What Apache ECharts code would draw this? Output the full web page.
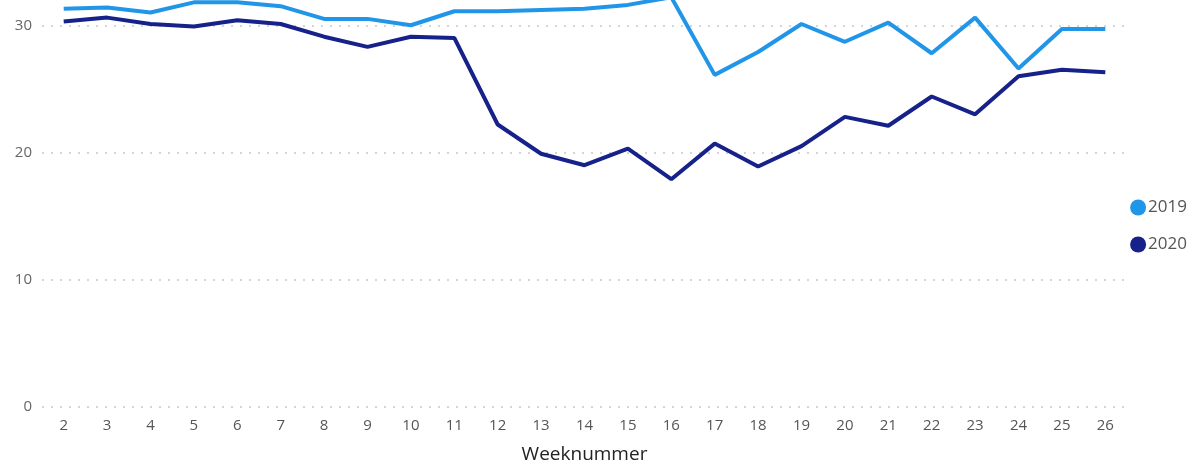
<!DOCTYPE html>
<html lang="nl">
<head>
    <meta charset="utf-8">
    <title>Weeknummer</title>
    <style>
        html, body { margin: 0; padding: 0; background: #fff; }
    </style>
</head>
<body>
    <div id="main" style="width:1192px;height:461px;"></div>
    <script src="https://cdn.jsdelivr.net/npm/echarts@6/dist/echarts.min.js"></script>
    <script type="text/javascript">
        // data
        var weeks = ['2','3','4','5','6','7','8','9','10','11','12','13','14','15','16','17','18','19','20','21','22','23','24','25','26'];
        var data2019 = [31.3, 31.4, 31.0, 31.8, 31.8, 31.5, 30.5, 30.5, 30.0, 31.1, 31.1, 31.2, 31.3, 31.6, 32.2, 26.1, 27.9, 30.1, 28.7, 30.2, 27.8, 30.6, 26.6, 29.7, 29.7];
        var data2020 = [30.3, 30.6, 30.1, 29.9, 30.4, 30.1, 29.1, 28.3, 29.1, 29.0, 22.2, 19.9, 19.0, 20.3, 17.9, 20.7, 18.9, 20.5, 22.8, 22.1, 24.4, 23.0, 26.0, 26.5, 26.3];
        var yTicks = [0, 10, 20, 30, 40];

        var font = '"Open Sans", "Noto Sans", sans-serif';
        var myChart = echarts.init(document.getElementById('main'));

        var option = {
            animation: false,
            grid: {
                left: 42,
                right: 65,
                top: -102,
                bottom: 54,
                containLabel: false,
                outerBoundsMode: 'none'
            },
            legend: {
                orient: 'vertical',
                right: 0,
                top: 194,
                itemGap: 20,
                itemWidth: 16,
                itemHeight: 16,
                icon: 'circle',
                textStyle: { color: '#555', fontSize: 17, fontFamily: font, padding: [0, 0, 0, -3] },
                data: ['2019', '2020']
            },
            xAxis: {
                type: 'category',
                data: weeks,
                name: 'Weeknummer',
                nameLocation: 'middle',
                nameGap: 38,
                nameTextStyle: { color: '#222', fontSize: 19, fontFamily: font },
                axisLine: { show: false },
                axisTick: { show: false },
                axisLabel: { color: '#555', fontSize: 15, fontFamily: font, margin: 11 }
            },
            yAxis: {
                type: 'value',
                min: yTicks[0],
                max: yTicks[yTicks.length - 1],
                interval: 10,
                axisLine: { show: false },
                axisTick: { show: false },
                axisLabel: { color: '#666', fontSize: 15, fontFamily: font, margin: 10 },
                splitLine: {
                    show: true,
                    lineStyle: { color: '#c8c8c8', type: [2, 7], width: 1.5 }
                }
            },
            series: [{
                name: '2019',
                type: 'line',
                data: data2019,
                symbol: 'none',
                color: '#2196e8',
                lineStyle: { width: 4, color: '#2196e8' }
            }, {
                name: '2020',
                type: 'line',
                data: data2020,
                symbol: 'none',
                color: '#17218a',
                lineStyle: { width: 4, color: '#17218a' }
            }]
        };
        myChart.setOption(option);
    </script>
</body>
</html>
